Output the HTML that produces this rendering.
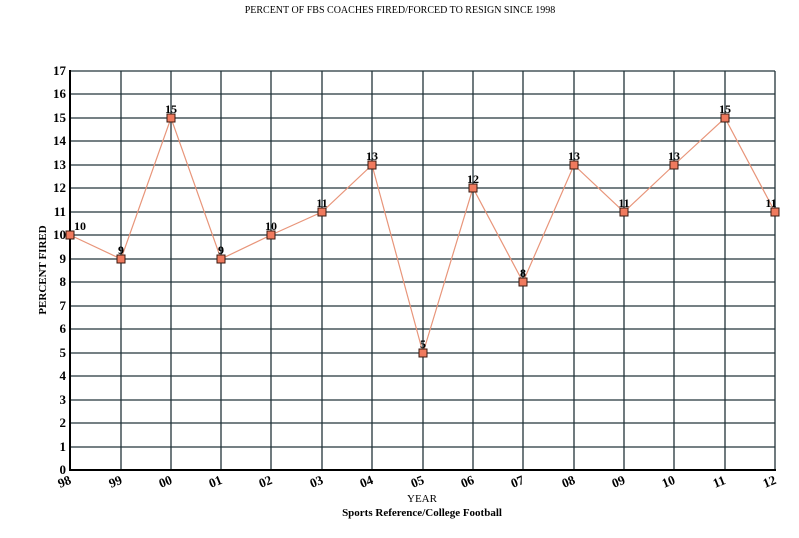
<!DOCTYPE html><html><head><style>body{margin:0;background:#fff}</style></head><body>
<svg width="799" height="533" xmlns="http://www.w3.org/2000/svg" font-family="Liberation Serif, serif" font-weight="bold">
<text x="400" y="13" font-size="10" text-anchor="middle" font-weight="normal">PERCENT OF FBS COACHES FIRED/FORCED TO RESIGN SINCE 1998</text>
<g stroke="#23343a" stroke-width="1.3">
<line x1="70" y1="447" x2="775" y2="447"/><line x1="70" y1="423" x2="775" y2="423"/><line x1="70" y1="400" x2="775" y2="400"/><line x1="70" y1="376" x2="775" y2="376"/><line x1="70" y1="353" x2="775" y2="353"/><line x1="70" y1="329" x2="775" y2="329"/><line x1="70" y1="306" x2="775" y2="306"/><line x1="70" y1="282" x2="775" y2="282"/><line x1="70" y1="259" x2="775" y2="259"/><line x1="70" y1="235" x2="775" y2="235"/><line x1="70" y1="212" x2="775" y2="212"/><line x1="70" y1="188" x2="775" y2="188"/><line x1="70" y1="165" x2="775" y2="165"/><line x1="70" y1="141" x2="775" y2="141"/><line x1="70" y1="118" x2="775" y2="118"/><line x1="70" y1="94" x2="775" y2="94"/><line x1="70" y1="71" x2="775" y2="71"/>
<line x1="121" y1="71" x2="121" y2="470"/><line x1="171" y1="71" x2="171" y2="470"/><line x1="221" y1="71" x2="221" y2="470"/><line x1="271" y1="71" x2="271" y2="470"/><line x1="322" y1="71" x2="322" y2="470"/><line x1="372" y1="71" x2="372" y2="470"/><line x1="423" y1="71" x2="423" y2="470"/><line x1="473" y1="71" x2="473" y2="470"/><line x1="523" y1="71" x2="523" y2="470"/><line x1="574" y1="71" x2="574" y2="470"/><line x1="624" y1="71" x2="624" y2="470"/><line x1="674" y1="71" x2="674" y2="470"/><line x1="725" y1="71" x2="725" y2="470"/><line x1="775" y1="71" x2="775" y2="470"/>
</g>
<line x1="70" y1="70" x2="70" y2="471" stroke="#000" stroke-width="2"/>
<line x1="69" y1="470" x2="776" y2="470" stroke="#000" stroke-width="2"/>
<g font-size="13" text-anchor="end">
<text x="66" y="474">0</text><text x="66" y="451">1</text><text x="66" y="427">2</text><text x="66" y="404">3</text><text x="66" y="380">4</text><text x="66" y="357">5</text><text x="66" y="333">6</text><text x="66" y="310">7</text><text x="66" y="286">8</text><text x="66" y="263">9</text><text x="66" y="239">10</text><text x="66" y="216">11</text><text x="66" y="192">12</text><text x="66" y="169">13</text><text x="66" y="145">14</text><text x="66" y="122">15</text><text x="66" y="98">16</text><text x="66" y="75">17</text>
</g>
<g font-size="13">
<text transform="translate(60,488) rotate(-22)">98</text><text transform="translate(111,488) rotate(-22)">99</text><text transform="translate(161,488) rotate(-22)">00</text><text transform="translate(211,488) rotate(-22)">01</text><text transform="translate(261,488) rotate(-22)">02</text><text transform="translate(312,488) rotate(-22)">03</text><text transform="translate(362,488) rotate(-22)">04</text><text transform="translate(413,488) rotate(-22)">05</text><text transform="translate(463,488) rotate(-22)">06</text><text transform="translate(513,488) rotate(-22)">07</text><text transform="translate(564,488) rotate(-22)">08</text><text transform="translate(614,488) rotate(-22)">09</text><text transform="translate(664,488) rotate(-22)">10</text><text transform="translate(715,488) rotate(-22)">11</text><text transform="translate(765,488) rotate(-22)">12</text>
</g>
<text x="422" y="502" font-size="11" text-anchor="middle" font-weight="normal">YEAR</text>
<text x="422" y="516" font-size="11" text-anchor="middle">Sports Reference/College Football</text>
<text transform="translate(46,270) rotate(-90)" font-size="11" text-anchor="middle">PERCENT FIRED</text>
<polyline fill="none" stroke="#e8957a" stroke-width="1.2" points="70,235 121,259 171,118 221,259 271,235 322,212 372,165 423,353 473,188 523,282 574,165 624,212 674,165 725,118 775,212"/>
<g fill="#f07a5e" stroke="#3a1a10" stroke-width="1">
<rect x="66" y="231" width="8" height="8"/><rect x="117" y="255" width="8" height="8"/><rect x="167" y="114" width="8" height="8"/><rect x="217" y="255" width="8" height="8"/><rect x="267" y="231" width="8" height="8"/><rect x="318" y="208" width="8" height="8"/><rect x="368" y="161" width="8" height="8"/><rect x="419" y="349" width="8" height="8"/><rect x="469" y="184" width="8" height="8"/><rect x="519" y="278" width="8" height="8"/><rect x="570" y="161" width="8" height="8"/><rect x="620" y="208" width="8" height="8"/><rect x="670" y="161" width="8" height="8"/><rect x="721" y="114" width="8" height="8"/><rect x="771" y="208" width="8" height="8"/>
</g>
<g font-size="12" text-anchor="middle">
<text x="80" y="230">10</text><text x="121" y="254">9</text><text x="171" y="113">15</text><text x="221" y="254">9</text><text x="271" y="230">10</text><text x="322" y="207">11</text><text x="372" y="160">13</text><text x="423" y="348">5</text><text x="473" y="183">12</text><text x="523" y="277">8</text><text x="574" y="160">13</text><text x="624" y="207">11</text><text x="674" y="160">13</text><text x="725" y="113">15</text><text x="771" y="207">11</text>
</g>
</svg>
</body></html>
